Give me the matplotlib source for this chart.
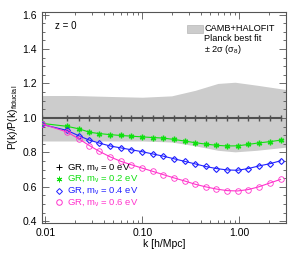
import numpy as np
import matplotlib.pyplot as plt
from matplotlib.ticker import MultipleLocator, FixedLocator, NullFormatter
from matplotlib.patches import Rectangle

plt.rcParams['font.family'] = ['Liberation Sans', 'DejaVu Sans']
plt.rcParams['mathtext.fontset'] = 'custom'
plt.rcParams['mathtext.rm'] = 'Liberation Sans'
plt.rcParams['mathtext.it'] = 'Liberation Sans'

# k values of the simulation points [h/Mpc]
k = [0.0093, 0.0168, 0.0224, 0.0285, 0.0360, 0.0465, 0.0600, 0.0770, 0.0990,
     0.1275, 0.1640, 0.2110, 0.2720, 0.3500, 0.4480, 0.5800, 0.7470, 0.9550,
     1.2300, 1.5800, 2.0500, 2.6500]

ratio_00 = [1.0] * len(k)
ratio_02 = [0.968, 0.951, 0.936, 0.917, 0.909, 0.903, 0.898, 0.894, 0.890,
            0.886, 0.883, 0.875, 0.866, 0.856, 0.848, 0.841, 0.837, 0.838,
            0.846, 0.855, 0.862, 0.871]
ratio_04 = [0.962, 0.927, 0.895, 0.871, 0.854, 0.837, 0.826, 0.815, 0.804,
            0.791, 0.778, 0.763, 0.748, 0.733, 0.718, 0.706, 0.698, 0.696,
            0.706, 0.721, 0.734, 0.751]
ratio_06 = [0.965, 0.918, 0.877, 0.839, 0.806, 0.774, 0.748, 0.728, 0.709,
            0.690, 0.671, 0.652, 0.634, 0.615, 0.600, 0.587, 0.578, 0.576,
            0.584, 0.600, 0.622, 0.643]

# Planck +/- 2 sigma(sigma_8) band
band_k = [0.0093, 0.02, 0.05, 0.1, 0.2, 0.35, 0.6, 0.9, 1.5, 3.0]
band_hi = [1.130, 1.130, 1.124, 1.120, 1.128, 1.160, 1.200, 1.207, 1.190, 1.165]
band_lo = [0.866, 0.866, 0.866, 0.866, 0.860, 0.838, 0.812, 0.803, 0.812, 0.830]

fig = plt.figure(figsize=(3.05, 2.54), dpi=100)
ax = fig.add_axes([0.137, 0.122, 0.800, 0.831])

ax.fill_between(band_k, band_lo, band_hi, color='#cccccc', lw=0, zorder=1)

ax.plot(k, ratio_00, color='#505050', lw=1.5, marker='|', ms=4, mew=1.0, zorder=3)
ax.plot(k, ratio_02, color='#10e010', lw=0.8, marker=(6, 2, 0), ms=4, mew=1.0, zorder=3)
ax.plot(k, ratio_04, color='#2020ff', lw=0.8, marker='D', ms=3, mfc='none', mew=0.8, zorder=3)
ax.plot(k, ratio_06, color='#ff33cc', lw=0.8, marker='o', ms=4, mfc='none', mew=0.6, zorder=3)

ax.set_xscale('log')
ax.set_xlim(0.0092, 3.0)
ax.set_ylim(0.39, 1.615)

ax.xaxis.set_major_locator(FixedLocator([0.01, 0.1, 1.0]))
ax.set_xticklabels(['0.01', '0.10', '1.00'])
ax.xaxis.set_minor_formatter(NullFormatter())
ax.yaxis.set_major_locator(MultipleLocator(0.2))
ax.yaxis.set_minor_locator(MultipleLocator(0.05))
ax.yaxis.set_major_formatter(plt.FuncFormatter(lambda v, p: f'{v:.1f}'))

ax.tick_params(which='both', direction='in', top=True, right=True, labelsize=7.5, width=0.6, color='#555555')
ax.tick_params(which='major', length=5)
ax.tick_params(which='minor', length=2.5)
for s in ax.spines.values():
    s.set_color('#555555')
    s.set_linewidth(0.8)

ax.set_xlabel('k [h/Mpc]', fontsize=7.5, labelpad=1)
ax.set_ylabel(r'P(k)/P(k)$_{\rm fiducial}$', fontsize=7.5, labelpad=2)

ax.text(0.055, 0.935, 'z = 0', transform=ax.transAxes, fontsize=7, va='center')

# band legend, top right
ax.add_patch(Rectangle((0.597, 0.899), 0.065, 0.039, transform=ax.transAxes,
                       facecolor='#cccccc', edgecolor='#aaaaaa', lw=0.4, zorder=4))
ax.text(0.665, 0.921, 'CAMB+HALOFIT', transform=ax.transAxes, fontsize=6.6, va='center')
ax.text(0.665, 0.874, 'Planck best fit', transform=ax.transAxes, fontsize=6.6, va='center')
ax.text(0.665, 0.822, r'± 2σ (σ$_8$)', transform=ax.transAxes, fontsize=6.6, va='center')

# series legend, bottom left
labels = [r'GR, m$_ν$ = 0 eV', r'GR, m$_ν$ = 0.2 eV', r'GR, m$_ν$ = 0.4 eV', r'GR, m$_ν$ = 0.6 eV']
colors = ['black', '#10e010', '#2020ff', '#ff33cc']
markers = ['+', (6, 2, 0), 'D', 'o']
msizes = [4, 4, 3, 4]
for i in range(4):
    yy = 0.265 - i * 0.0555
    ax.plot([0.07], [yy], transform=ax.transAxes, color=colors[i], marker=markers[i],
            ms=msizes[i], mfc='none', mew=0.7, ls='none', zorder=5)
    ax.text(0.104, yy, labels[i], transform=ax.transAxes, fontsize=6.8,
            color=colors[i], va='center')

fig.savefig('out.png', dpi=100)
